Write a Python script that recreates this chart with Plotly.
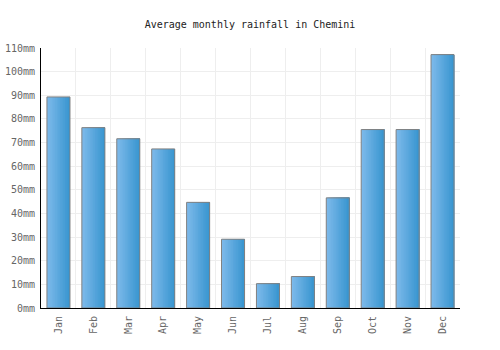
import plotly.graph_objects as go

months = ["Jan", "Feb", "Mar", "Apr", "May", "Jun", "Jul", "Aug", "Sep", "Oct", "Nov", "Dec"]
rainfall = [89.3, 76.3, 71.6, 67.3, 44.7, 29.1, 10.3, 13.3, 46.6, 75.5, 75.5, 107.2]
y_ticks = list(range(0, 111, 10))

x = list(range(len(months)))
bar_w = 0.66
n_slices = 14
c0 = (124, 185, 234)
c1 = (58, 150, 208)

fig = go.Figure()
sw = bar_w / n_slices
for i in range(n_slices):
    t = i / (n_slices - 1)
    col = tuple(round(c0[k] + (c1[k] - c0[k]) * t) for k in range(3))
    fig.add_trace(go.Bar(
        x=x, y=rainfall, width=bar_w - i * sw, offset=-bar_w / 2 + i * sw,
        marker=dict(color="rgb(%d,%d,%d)" % col, line=dict(width=0)),
        hoverinfo="skip", showlegend=False))
fig.add_trace(go.Bar(
    x=x, y=rainfall, width=bar_w,
    marker=dict(color="rgba(0,0,0,0)", line=dict(color="#808080", width=1)),
    showlegend=False, name="Rainfall"))

fig.update_layout(
    width=500, height=350,
    margin=dict(l=41, r=40, t=48, b=42),
    barmode="overlay",
    paper_bgcolor="white", plot_bgcolor="white",
    font=dict(family="DejaVu Sans Mono", size=10, color="#666666"),
    title=dict(text="Average monthly rainfall in Chemini", x=0.5, xanchor="center",
               y=1 - 24 / 350, yanchor="middle",
               font=dict(family="DejaVu Sans Mono", size=10, color="#222222")),
)
fig.update_xaxes(
    range=[-0.5, len(months) - 0.5], tickvals=x, ticktext=months, tickangle=-90,
    tickfont=dict(family="DejaVu Sans Mono", size=10, color="#666666"),
    showgrid=False, showline=True, linecolor="black", linewidth=1,
    ticks="outside", ticklen=3, tickcolor="rgba(0,0,0,0)",
    minor=dict(tickvals=[i + 0.5 for i in x], showgrid=True, gridcolor="#eeeeee",
               gridwidth=1, ticks=""),
    zeroline=False, fixedrange=True, automargin=False)
fig.update_yaxes(
    range=[0, 110], tickvals=y_ticks, ticktext=["%dmm" % v for v in y_ticks],
    tickfont=dict(family="DejaVu Sans Mono", size=10, color="#666666"),
    showgrid=True, gridcolor="#eeeeee", gridwidth=1,
    showline=True, linecolor="black", linewidth=1,
    ticks="outside", ticklen=3, tickcolor="rgba(0,0,0,0)",
    zeroline=False, fixedrange=True, automargin=False)

fig.write_html("out.html")
